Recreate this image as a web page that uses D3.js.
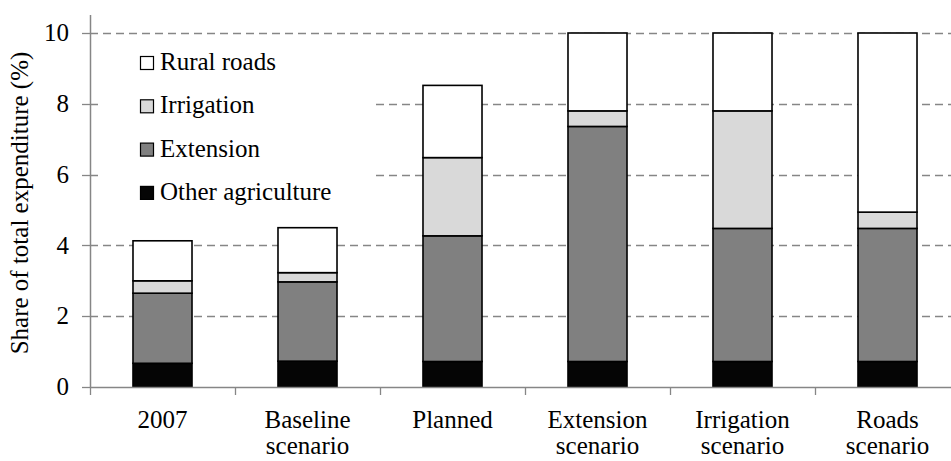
<!doctype html>
<html>
  <head>
    <meta charset="utf-8">
    <script src="https://d3js.org/d3.v7.min.js"></script>
  </head>
  <body style="margin:0">
    <script>
      const width = 951;
      const height = 461;
      const serif = '"Times New Roman", "Liberation Serif", Tinos, FreeSerif, serif';

      // data
      const categories = ['2007', 'Baseline\nscenario', 'Planned', 'Extension\nscenario', 'Irrigation\nscenario', 'Roads\nscenario'];
      const seriesNames = ['Other agriculture', 'Extension', 'Irrigation', 'Rural roads'];
      const otherAgriculture = [0.67, 0.73, 0.72, 0.72, 0.72, 0.72];
      const extension = [1.98, 2.24, 3.55, 6.64, 3.76, 3.76];
      const irrigation = [0.35, 0.26, 2.21, 0.44, 3.32, 0.46];
      const ruralRoads = [1.13, 1.27, 2.04, 2.20, 2.20, 5.06];
      const yTicks = [0, 2, 4, 6, 8, 10];
      const colors = ['#050505', '#808080', '#d9d9d9', '#ffffff'];

      const margin = { top: 33, right: -9, bottom: 74, left: 90 };

      const rows = categories.map((c, i) => ({
        cat: c,
        'Other agriculture': otherAgriculture[i],
        'Extension': extension[i],
        'Irrigation': irrigation[i],
        'Rural roads': ruralRoads[i]
      }));
      const stacked = d3.stack().keys(seriesNames)(rows);

      const svg = d3.select('body').append('svg')
          .attr('width', width)
          .attr('height', height)
          .style('font-family', serif);

      const x = d3.scaleBand()
          .domain(categories)
          .range([margin.left, width - margin.right])
          .paddingInner(0.593)
          .paddingOuter(0.2965);

      const y = d3.scaleLinear()
          .domain([0, 10])
          .range([height - margin.bottom, margin.top]);

      // dashed grid
      svg.append('g')
        .selectAll('line')
        .data(yTicks.filter(d => d > 0))
        .enter().append('line')
          .attr('x1', margin.left)
          .attr('x2', width)
          .attr('y1', d => Math.round(y(d)) + 0.5)
          .attr('y2', d => Math.round(y(d)) + 0.5)
          .attr('stroke', '#868686')
          .attr('stroke-width', 1.4)
          .attr('stroke-dasharray', '8,5');

      // legend background hides the grid behind it
      const legend = svg.append('g');
      legend.append('rect')
          .attr('x', 103).attr('y', 42)
          .attr('width', 272).attr('height', 168)
          .attr('fill', '#fff');

      const legendOrder = ['Rural roads', 'Irrigation', 'Extension', 'Other agriculture'];
      const legendItems = legend.selectAll('g')
        .data(legendOrder)
        .enter().append('g')
          .attr('transform', (d, i) => `translate(140, ${70 + i * 43.3})`);
      legendItems.append('rect')
          .attr('x', 0.5).attr('y', -13.5)
          .attr('width', 13).attr('height', 13)
          .attr('fill', d => colors[seriesNames.indexOf(d)])
          .attr('stroke', '#000')
          .attr('stroke-width', 1.2);
      legendItems.append('text')
          .attr('x', 20)
          .attr('y', 0)
          .attr('font-size', 25)
          .style('font-family', serif)
          .text(d => d);

      // bars
      svg.append('g')
        .selectAll('g')
        .data(stacked)
        .enter().append('g')
          .attr('fill', (d, i) => colors[i])
        .selectAll('rect')
        .data(d => d.map(v => ({ cat: v.data.cat, y0: v[0], y1: v[1] })))
        .enter().append('rect')
          .attr('x', d => x(d.cat))
          .attr('width', x.bandwidth())
          .attr('y', d => y(d.y1))
          .attr('height', d => y(d.y0) - y(d.y1))
          .attr('stroke', '#000')
          .attr('stroke-width', 1.6);

      // y axis
      const yAxis = svg.append('g')
          .attr('transform', `translate(${margin.left},0)`);
      yAxis.append('line')
          .attr('x1', 0.5).attr('x2', 0.5)
          .attr('y1', 15).attr('y2', y(0))
          .attr('stroke', '#868686').attr('stroke-width', 1.5);
      yAxis.selectAll('.tick')
        .data(yTicks)
        .enter().append('line')
          .attr('x1', -8).attr('x2', 0)
          .attr('y1', d => Math.round(y(d)) + 0.5)
          .attr('y2', d => Math.round(y(d)) + 0.5)
          .attr('stroke', '#868686').attr('stroke-width', 1.3);
      yAxis.selectAll('text')
        .data(yTicks)
        .enter().append('text')
          .attr('x', -21)
          .attr('y', d => y(d))
          .attr('dy', '0.33em')
          .attr('text-anchor', 'end')
          .attr('font-size', 25)
          .style('font-family', serif)
          .text(d => d);

      // x axis
      const xAxis = svg.append('g');
      xAxis.append('line')
          .attr('x1', margin.left).attr('x2', width)
          .attr('y1', y(0) + 0.5).attr('y2', y(0) + 0.5)
          .attr('stroke', '#868686').attr('stroke-width', 1.5);
      const step = x.step();
      xAxis.selectAll('.xt')
        .data(d3.range(categories.length))
        .enter().append('line')
          .attr('x1', i => Math.round(margin.left + i * step) + 0.5)
          .attr('x2', i => Math.round(margin.left + i * step) + 0.5)
          .attr('y1', y(0))
          .attr('y2', y(0) + 8)
          .attr('stroke', '#868686').attr('stroke-width', 1.3);
      const labels = xAxis.selectAll('.xl')
        .data(categories)
        .enter().append('text')
          .attr('text-anchor', 'middle')
          .attr('font-size', 25)
          .style('font-family', serif)
          .attr('transform', d => `translate(${x(d) + x.bandwidth() / 2},428)`);
      labels.selectAll('tspan')
        .data(d => d.split('\n'))
        .enter().append('tspan')
          .attr('x', 0)
          .attr('dy', (d, i) => i === 0 ? 0 : 26)
          .text(d => d);

      // y axis title
      svg.append('text')
          .attr('transform', `translate(28, 203) rotate(-90)`)
          .attr('text-anchor', 'middle')
          .attr('font-size', 25)
          .style('font-family', serif)
          .text('Share of total expenditure (%)');
    </script>
  </body>
</html>
